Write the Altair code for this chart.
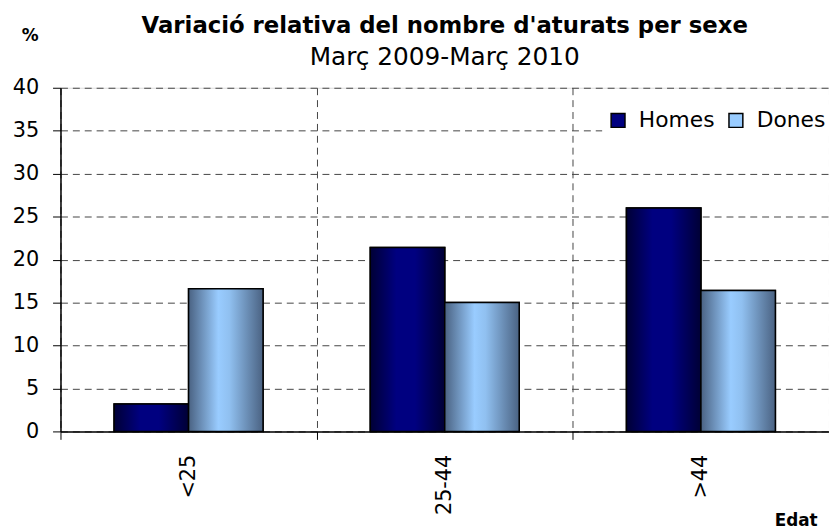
import altair as alt
import pandas as pd

categories = ["<25", "25-44", ">44"]
series = ["Homes", "Dones"]
homes = [3.2, 21.4, 26.0]
dones = [16.6, 15.0, 16.4]

rows = []
for c, h, d in zip(categories, homes, dones):
    rows.append({"edat": c, "sexe": "Homes", "valor": h})
    rows.append({"edat": c, "sexe": "Dones", "valor": d})
df = pd.DataFrame(rows)

FONT = "DejaVu Sans"
W, H = 776, 347

x_enc = alt.X("edat:N", sort=categories,
              scale=alt.Scale(paddingInner=0, paddingOuter=0),
              axis=alt.Axis(title="Edat", titleFont=FONT, titleFontSize=17, titleFontWeight="bold",
                            titleColor="black",
                            titleAnchor="end", titleAlign="right", titleBaseline="alphabetic",
                            titleX=764, titleY=95,
                            labelAngle=270, labelAlign="right", labelBaseline="middle",
                            labelFont=FONT, labelFontSize=21, labelColor="black", labelPadding=15,
                            tickBand="extent", ticks=True, tickSize=8, tickColor="black",
                            domainColor="black", domainWidth=1.5,
                            grid=True, gridDash=[7, 5], gridColor="#444", gridWidth=1))
xo_enc = alt.XOffset("sexe:N", scale=alt.Scale(domain=series, paddingInner=0, paddingOuter=0.72))
y_enc = alt.Y("valor:Q", scale=alt.Scale(domain=[0, 40], nice=False),
              axis=alt.Axis(values=list(range(0, 45, 5)), title="%", titleAngle=0,
                            titleFont=FONT, titleFontSize=17, titleFontWeight="bold", titleColor="black",
                            titleAlign="center", titleBaseline="middle", titleX=-31, titleY=-53,
                            labelFont=FONT, labelFontSize=21, labelColor="black", labelPadding=14,
                            tickSize=8, tickColor="black", domainColor="black", domainWidth=1.5,
                            grid=True, gridDash=[7, 5], gridColor="#444", gridWidth=1))

base = alt.Chart(df).mark_bar(stroke="black", strokeWidth=1.5).encode(
    x=x_enc, xOffset=xo_enc, y=y_enc,
    color=alt.Color("sexe:N", scale=alt.Scale(domain=series, range=["#000080", "#99ccff"]),
                    legend=alt.Legend(title=None, orient="none", direction="horizontal",
                                      legendX=547, legendY=17, symbolType="square",
                                      symbolSize=196, symbolStrokeColor="black", symbolStrokeWidth=1.5,
                                      labelFont=FONT, labelFontSize=22, labelColor="black",
                                      columnPadding=10, labelOffset=10,
                                      fillColor="white", padding=5)),
)

grad_h = alt.LinearGradient(gradient="linear", x1=0, x2=1, y1=0, y2=0, stops=[
    alt.GradientStop(color="#000035", offset=0),
    alt.GradientStop(color="#000080", offset=0.35),
    alt.GradientStop(color="#000080", offset=0.6),
    alt.GradientStop(color="#000035", offset=1)])
grad_d = alt.LinearGradient(gradient="linear", x1=0, x2=1, y1=0, y2=0, stops=[
    alt.GradientStop(color="#4a6282", offset=0),
    alt.GradientStop(color="#99ccff", offset=0.4),
    alt.GradientStop(color="#90c0f0", offset=0.55),
    alt.GradientStop(color="#4a6282", offset=1)])

lay_h = alt.Chart(df).transform_filter(alt.datum.sexe == "Homes").mark_bar(
    fill=grad_h, stroke="black", strokeWidth=1.5).encode(x=x_enc, xOffset=xo_enc, y=y_enc)
lay_d = alt.Chart(df).transform_filter(alt.datum.sexe == "Dones").mark_bar(
    fill=grad_d, stroke="black", strokeWidth=1.5).encode(x=x_enc, xOffset=xo_enc, y=y_enc)

chart = alt.layer(base, lay_h, lay_d).properties(
    width=W, height=H,
    autosize=alt.AutoSizeParams(type="none"),
    padding={"left": 53, "top": 78, "right": 0, "bottom": 97},
    title=alt.TitleParams(text="Variació relativa del nombre d'aturats per sexe",
                          subtitle="Març 2009-Març 2010", anchor="middle",
                          font=FONT, fontSize=23, fontWeight="bold", color="black",
                          subtitleFont=FONT, subtitleFontSize=25, subtitleColor="black",
                          subtitlePadding=7, offset=-44),
).configure_view(stroke="#888", strokeWidth=1.5).configure(background="white")

chart.save("out.html", embed_options={"renderer": "svg", "actions": False})
